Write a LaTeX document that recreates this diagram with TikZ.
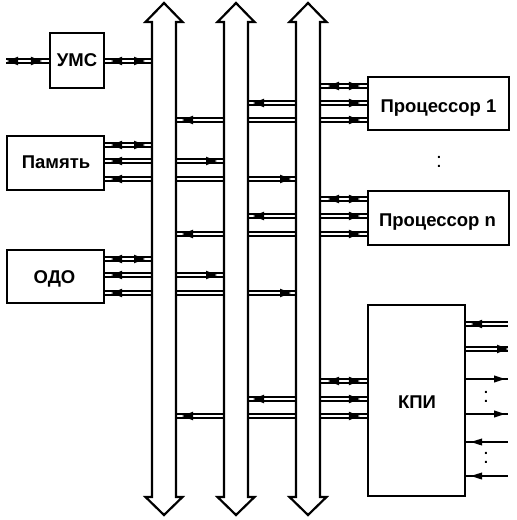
\documentclass[tikz,border=0pt]{standalone}
\usepackage{fontspec}
\setmainfont{Liberation Sans}
\usetikzlibrary{calc}
\newcommand\dlink[3]{%
  \coordinate (s) at (#1 |- 0,#3);
  \coordinate (e) at (#2 |- 0,#3);
  \draw[wire] ($(s)+(0,2.3)$) -- ($(e)+(0,2.3)$);
  \draw[wire] ($(s)+(0,-2.3)$) -- ($(e)+(0,-2.3)$);}
\newcommand\slink[3]{%
  \coordinate (s) at (#1 |- 0,#3);
  \coordinate (e) at (#2 |- 0,#3);
  \draw[wire,line width=2pt] (s) -- (e);}
\newcommand\hL[2][4.3]{\fill ($(s)+(#2,0)$) -- ++(11,#1) -- ++(0,-2*#1) -- cycle;}
\newcommand\hR[2][4.3]{\fill ($(e)+(-#2,0)$) -- ++(-11,#1) -- ++(0,-2*#1) -- cycle;}
\newcommand\busoutline[1]{\draw[bus] (#1.north west) -- ++(-6.5,0) -- (#1.north |- 0,3) -- ($(#1.north east)+(6.5,0)$) -- (#1.north east) -- (#1.south east) -- ++(6.5,0) -- (#1.south |- 0,515) -- ($(#1.south west)+(-6.5,0)$) -- (#1.south west) -- cycle;}
\begin{document}
\begin{tikzpicture}[x=1pt,y=-1pt,
  box/.style={draw,line width=2.2pt,inner sep=0pt},
  lbl/.style={inner sep=0pt,font=\bfseries\fontsize{18.5}{22}\selectfont,text height=13.2pt,text depth=0pt},
  dots/.style={inner sep=0pt,font=\fontsize{21}{24}\selectfont},
  wire/.style={line width=1.8pt},
  bus/.style={draw,line width=2.2pt,fill=white,line join=miter},
  busshaft/.style={minimum width=24pt,minimum height=475pt,inner sep=0pt,outer sep=0pt}]
\useasboundingbox (0,0) rectangle (517,520);
% buses
\node[busshaft] (b1) at (164,259.5) {};
\node[busshaft] (b2) at (236,259.5) {};
\node[busshaft] (b3) at (308,259.5) {};
\busoutline{b1}
\busoutline{b2}
\busoutline{b3}
% boxes
\node[box,minimum width=54pt,minimum height=55pt] (ums) at (77,60.5) {};
\node[box,minimum width=97pt,minimum height=54pt] (mem) at (55.5,163) {};
\node[box,minimum width=97pt,minimum height=53pt] (odo) at (55.5,276.5) {};
\node[box,minimum width=141pt,minimum height=53pt] (p1) at (438.5,103.5) {};
\node[box,minimum width=141pt,minimum height=54pt] (pn) at (438.5,218) {};
\node[box,minimum width=97pt,minimum height=191pt] (kpi) at (416.5,400.5) {};
% labels
\node[lbl] (tums) at (77,60) {УМС};
\node[lbl] (tmem) at (56,161.5) {Память};
\node[lbl] (todo) at (54.5,276.5) {ОДО};
\node[lbl] (tp1) at (438.5,106) {Процессор 1};
\node[lbl] (tpn) at (437.5,219.5) {Процессор n};
\node[lbl] (tkpi) at (417,401.5) {КПИ};
\node[dots] (d1) at (439,162) {:};
\node[dots] (d2) at (486,397) {:};
\node[dots] (d3) at (486,458) {:};
% УМС
\coordinate (ext) at (6,61);
\dlink{ext}{ums.west}{61}\hL{1}\hR{7}
\dlink{ums.east}{b1.west}{61}\hL{6}\hR{7}
% Память
\dlink{mem.east}{b1.west}{145}\hL{6}\hR{7}
\dlink{mem.east}{b1.west}{161}\hL{6}
\dlink{mem.east}{b1.west}{179}\hL{6}
% ОДО
\dlink{odo.east}{b1.west}{259}\hL{6}\hR{7}
\dlink{odo.east}{b1.west}{275}\hL{6}
\dlink{odo.east}{b1.west}{293}\hL{6}
% bus 1 - bus 2
\dlink{b1.east}{b2.west}{120}\hL{6}
\dlink{b1.east}{b2.west}{161}\hR{7}
\dlink{b1.east}{b2.west}{179}
\dlink{b1.east}{b2.west}{234}\hL{6}
\dlink{b1.east}{b2.west}{275}\hR{7}
\dlink{b1.east}{b2.west}{293}
\dlink{b1.east}{b2.west}{416}\hL{6}
% bus 2 - bus 3
\dlink{b2.east}{b3.west}{103}\hL{5}
\dlink{b2.east}{b3.west}{120}
\dlink{b2.east}{b3.west}{179}\hR{5}
\dlink{b2.east}{b3.west}{216}\hL{5}
\dlink{b2.east}{b3.west}{234}
\dlink{b2.east}{b3.west}{293}\hR{5}
\dlink{b2.east}{b3.west}{399}\hL{5}
\dlink{b2.east}{b3.west}{416}
% bus 3 - processors, КПИ
\dlink{b3.east}{p1.west}{86}\hL{8}\hR{7}
\dlink{b3.east}{p1.west}{103}\hR{7}
\dlink{b3.east}{p1.west}{120}\hR{7}
\dlink{b3.east}{pn.west}{199}\hL{8}\hR{7}
\dlink{b3.east}{pn.west}{216}\hR{7}
\dlink{b3.east}{pn.west}{234}\hR{7}
\dlink{b3.east}{kpi.west}{381}\hL{8}\hR{7}
\dlink{b3.east}{kpi.west}{399}\hR{7}
\dlink{b3.east}{kpi.west}{416}\hR{7}
% КПИ outputs
\coordinate (kx) at (508,0);
\dlink{kpi.east}{kx}{324}\hL{5}
\dlink{kpi.east}{kx}{349}\hR{0}
\slink{kpi.east}{kx}{379}\hR[3.6]{3}
\slink{kpi.east}{kx}{414}\hR[3.6]{3}
\slink{kpi.east}{kx}{442}\hL[3.6]{5}
\slink{kpi.east}{kx}{476}\hL[3.6]{5}
\end{tikzpicture}
\end{document}
